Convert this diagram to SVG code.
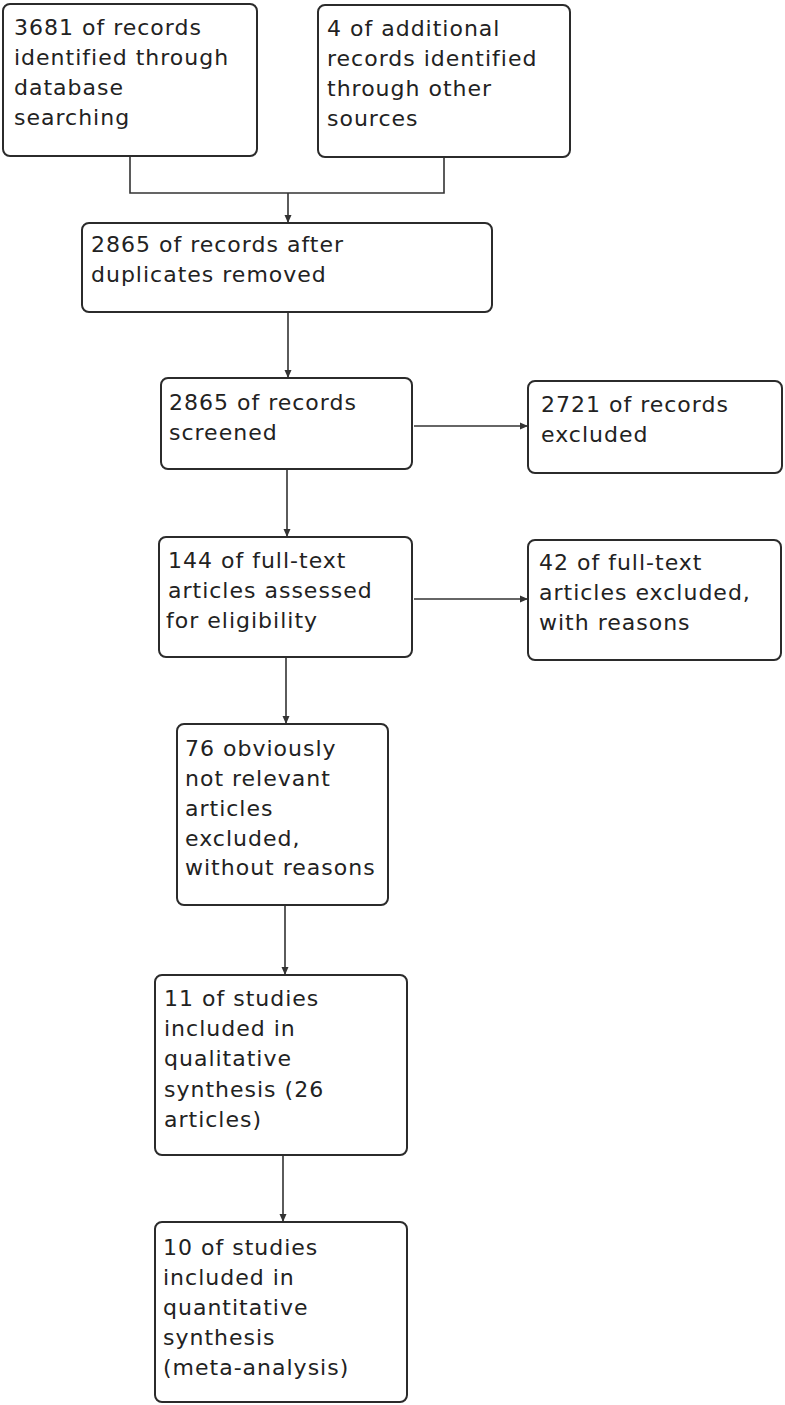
<svg xmlns="http://www.w3.org/2000/svg" width="785" height="1405" viewBox="0 0 785 1405">
<defs>
<style>
.box{fill:#fff;stroke:#2b2b2b;stroke-width:2}
.t{font-family:"DejaVu Sans",sans-serif;font-size:22px;fill:#222;letter-spacing:1px}
.c{fill:none;stroke:#333;stroke-width:1.6}
</style>
<marker id="ah" viewBox="0 0 8 8" refX="8" refY="4" markerWidth="8" markerHeight="8" markerUnits="userSpaceOnUse" orient="auto">
<path d="M0,0.5 L8,4 L0,7.5 z" fill="#333"/>
</marker>
</defs>
<rect width="785" height="1405" fill="#fff"/>
<g id="connectors">
<polyline class="c" points="130,156 130,193 444,193 444,157"/>
<line class="c" x1="288" y1="193" x2="288" y2="223" marker-end="url(#ah)"/>
<line class="c" x1="288" y1="312" x2="288" y2="378" marker-end="url(#ah)"/>
<line class="c" x1="414" y1="426" x2="528" y2="426" marker-end="url(#ah)"/>
<line class="c" x1="287" y1="469" x2="287" y2="537" marker-end="url(#ah)"/>
<line class="c" x1="414" y1="599" x2="528" y2="599" marker-end="url(#ah)"/>
<line class="c" x1="286" y1="657" x2="286" y2="724" marker-end="url(#ah)"/>
<line class="c" x1="285" y1="905" x2="285" y2="975" marker-end="url(#ah)"/>
<line class="c" x1="283" y1="1155" x2="283" y2="1222" marker-end="url(#ah)"/>
</g>
<g id="n1"><rect class="box" x="3" y="4" width="254" height="152" rx="7"/>
<text class="t" x="14"><tspan x="14" y="35">3681 of records</tspan><tspan x="14" y="65">identified through</tspan><tspan x="14" y="95">database</tspan><tspan x="14" y="125">searching</tspan></text></g>
<g id="n2"><rect class="box" x="318" y="5" width="252" height="152" rx="7"/>
<text class="t"><tspan x="327" y="36">4 of additional</tspan><tspan x="327" y="66">records identified</tspan><tspan x="327" y="96">through other</tspan><tspan x="327" y="126">sources</tspan></text></g>
<g id="n3"><rect class="box" x="82" y="223" width="410" height="89" rx="7"/>
<text class="t"><tspan x="91" y="252">2865 of records after</tspan><tspan x="91" y="282">duplicates removed</tspan></text></g>
<g id="n4"><rect class="box" x="161" y="378" width="251" height="91" rx="7"/>
<text class="t"><tspan x="169" y="410">2865 of records</tspan><tspan x="169" y="440">screened</tspan></text></g>
<g id="n5"><rect class="box" x="528" y="381" width="254" height="92" rx="7"/>
<text class="t"><tspan x="541" y="412">2721 of records</tspan><tspan x="541" y="442">excluded</tspan></text></g>
<g id="n6"><rect class="box" x="159" y="537" width="253" height="120" rx="7"/>
<text class="t"><tspan x="168" y="568">144 of full-text</tspan><tspan x="168" y="598">articles assessed</tspan><tspan x="166" y="628">for eligibility</tspan></text></g>
<g id="n7"><rect class="box" x="528" y="540" width="253" height="120" rx="7"/>
<text class="t"><tspan x="539" y="570">42 of full-text</tspan><tspan x="539" y="600">articles excluded,</tspan><tspan x="539" y="630">with reasons</tspan></text></g>
<g id="n8"><rect class="box" x="177" y="724" width="211" height="181" rx="7"/>
<text class="t"><tspan x="185" y="756">76 obviously</tspan><tspan x="185" y="786">not relevant</tspan><tspan x="185" y="816">articles</tspan><tspan x="185" y="846">excluded,</tspan><tspan x="185" y="875">without reasons</tspan></text></g>
<g id="n9"><rect class="box" x="155" y="975" width="252" height="180" rx="7"/>
<text class="t"><tspan x="164" y="1006">11 of studies</tspan><tspan x="164" y="1036">included in</tspan><tspan x="164" y="1066">qualitative</tspan><tspan x="164" y="1097">synthesis (26</tspan><tspan x="164" y="1127">articles)</tspan></text></g>
<g id="n10"><rect class="box" x="155" y="1222" width="252" height="180" rx="7"/>
<text class="t"><tspan x="163" y="1255">10 of studies</tspan><tspan x="163" y="1285">included in</tspan><tspan x="163" y="1315">quantitative</tspan><tspan x="163" y="1345">synthesis</tspan><tspan x="163" y="1375">(meta-analysis)</tspan></text></g>
</svg>
